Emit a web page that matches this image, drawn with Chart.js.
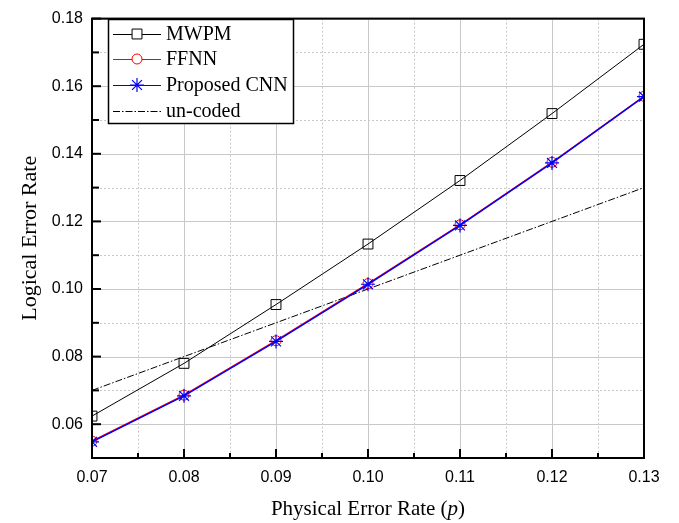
<!DOCTYPE html>
<html>
<head>
<meta charset="utf-8">
<script src="https://cdn.jsdelivr.net/npm/chart.js"></script>
<style>
  html, body { margin: 0; padding: 0; background: #fff; }
  #wrap { width: 679px; height: 523px; }
</style>
</head>
<body>
<div id="wrap"><canvas id="chart" width="679" height="523"></canvas></div>
<script>
// physical error rate p
const pValues = [0.07, 0.08, 0.09, 0.10, 0.11, 0.12, 0.13];
const mwpm = [0.0624, 0.0780, 0.0954, 0.1133, 0.1321, 0.1519, 0.1724];
const ffnn = [0.0550, 0.0686, 0.0847, 0.1016, 0.1190, 0.1375, 0.1570];
const cnn = [0.0548, 0.0684, 0.0845, 0.1014, 0.1188, 0.1373, 0.1569];
const uncoded = [0.07, 0.08, 0.09, 0.10, 0.11, 0.12, 0.13];

const xTicks = [0.07, 0.08, 0.09, 0.10, 0.11, 0.12, 0.13];
const xMinor = [0.075, 0.085, 0.095, 0.105, 0.115, 0.125];
const yTicks = [0.06, 0.08, 0.10, 0.12, 0.14, 0.16, 0.18];
const yMinor = [0.05, 0.07, 0.09, 0.11, 0.13, 0.15, 0.17];

const seriesNames = ['MWPM', 'FFNN', 'Proposed CNN', 'un-coded'];

const pts = arr => pValues.map((p, i) => ({ x: p, y: arr[i] }));

const tickFont = { family: 'Liberation Sans', size: 16 };
const serif = 'Liberation Serif';

// grid, frame, inward ticks, legend and x title
const decor = {
  id: 'decor',
  beforeDatasetsDraw(chart) {
    const { ctx, chartArea: a, scales: { x, y } } = chart;
    ctx.save();
    ctx.strokeStyle = '#c8c8c8';
    ctx.lineWidth = 1;
    ctx.setLineDash([2, 2]);
    xMinor.forEach(v => { const px = Math.round(x.getPixelForValue(v)) + 0.5; ctx.beginPath(); ctx.moveTo(px, a.top); ctx.lineTo(px, a.bottom); ctx.stroke(); });
    yMinor.forEach(v => { const py = Math.round(y.getPixelForValue(v)) + 0.5; ctx.beginPath(); ctx.moveTo(a.left, py); ctx.lineTo(a.right, py); ctx.stroke(); });
    ctx.setLineDash([]);
    xTicks.forEach(v => { const px = Math.round(x.getPixelForValue(v)) + 0.5; ctx.beginPath(); ctx.moveTo(px, a.top); ctx.lineTo(px, a.bottom); ctx.stroke(); });
    yTicks.forEach(v => { const py = Math.round(y.getPixelForValue(v)) + 0.5; ctx.beginPath(); ctx.moveTo(a.left, py); ctx.lineTo(a.right, py); ctx.stroke(); });
    ctx.restore();
  },
  afterDraw(chart) {
    const { ctx, chartArea: a, scales: { x, y } } = chart;
    ctx.save();
    // frame
    ctx.strokeStyle = '#000';
    ctx.lineWidth = 2;
    ctx.strokeRect(a.left, a.top, a.right - a.left, a.bottom - a.top);
    // inward ticks
    xTicks.forEach(v => { const px = x.getPixelForValue(v); ctx.beginPath(); ctx.moveTo(px, a.bottom); ctx.lineTo(px, a.bottom - 9); ctx.stroke(); });
    xMinor.forEach(v => { const px = x.getPixelForValue(v); ctx.beginPath(); ctx.moveTo(px, a.bottom); ctx.lineTo(px, a.bottom - 5); ctx.stroke(); });
    yTicks.forEach(v => { const py = y.getPixelForValue(v); ctx.beginPath(); ctx.moveTo(a.left, py); ctx.lineTo(a.left + 9, py); ctx.stroke(); });
    yMinor.forEach(v => { const py = y.getPixelForValue(v); ctx.beginPath(); ctx.moveTo(a.left, py); ctx.lineTo(a.left + 7, py); ctx.stroke(); });

    // legend
    const lx = 108, ly = 19, lw = 185, lh = 104;
    ctx.fillStyle = '#fff';
    ctx.fillRect(lx, ly, lw, lh);
    ctx.lineWidth = 1.5;
    ctx.strokeStyle = '#000';
    ctx.strokeRect(lx + 0.5, ly + 0.5, lw, lh);
    ctx.textBaseline = 'middle';
    const rows = [34, 59, 85, 111];
    chart.data.datasets.forEach((ds, i) => {
      const ry = rows[i];
      ctx.save();
      ctx.strokeStyle = ds.borderColor;
      ctx.lineWidth = 1;
      ctx.setLineDash(ds.borderDash || []);
      ctx.beginPath(); ctx.moveTo(113, ry + 0.5); ctx.lineTo(161, ry + 0.5); ctx.stroke();
      ctx.restore();
      if (ds.pointRadius > 0) {
        ctx.save();
        ctx.strokeStyle = ds.pointBorderColor;
        ctx.fillStyle = '#fff';
        ctx.lineWidth = ds.pointBorderWidth;
        Chart.helpers.drawPoint(ctx, {
          pointStyle: ds.pointStyle, radius: ds.pointRadius, borderWidth: ds.pointBorderWidth, rotation: 0
        }, 137, ry);
        ctx.restore();
      }
      ctx.fillStyle = '#000';
      ctx.font = '20px "' + serif + '"';
      ctx.fillText(ds.label, 166, ry + 1);
    });

    // x title with italic p
    ctx.textBaseline = 'alphabetic';
    const parts = [['Physical Error Rate (', 'normal'], ['p', 'italic'], [')', 'normal']];
    let total = 0;
    parts.forEach(p => { ctx.font = p[1] + ' 21px "' + serif + '"'; total += ctx.measureText(p[0]).width; });
    let cx = (a.left + a.right) / 2 - total / 2;
    parts.forEach(p => { ctx.font = p[1] + ' 21px "' + serif + '"'; ctx.fillText(p[0], cx, 515); cx += ctx.measureText(p[0]).width; });
    ctx.restore();
  }
};

new Chart(document.getElementById('chart'), {
  type: 'scatter',
  data: {
    datasets: [
      { label: seriesNames[0], data: pts(mwpm), showLine: true, borderColor: '#000', borderWidth: 1,
        pointStyle: 'rect', pointRadius: 7, pointBorderWidth: 1, pointBorderColor: '#000', pointBackgroundColor: 'rgba(0,0,0,0)', order: 3 },
      { label: seriesNames[1], data: pts(ffnn), showLine: true, borderColor: '#ff0000', borderWidth: 1.5,
        pointStyle: 'circle', pointRadius: 5, pointBorderWidth: 1, pointBorderColor: '#ff0000', pointBackgroundColor: 'rgba(0,0,0,0)', order: 2 },
      { label: seriesNames[2], data: pts(cnn), showLine: true, borderColor: '#0000ff', borderWidth: 1.5,
        pointStyle: 'star', pointRadius: 7, pointBorderWidth: 1.2, pointBorderColor: '#0000ff', pointBackgroundColor: 'rgba(0,0,0,0)', order: 1 },
      { label: seriesNames[3], data: pts(uncoded), showLine: true, borderColor: '#000', borderWidth: 1,
        borderDash: [7, 2, 1.5, 2], pointRadius: 0, pointBorderColor: '#000', order: 4 }
    ]
  },
  options: {
    responsive: false,
    animation: false,
    events: [],
    layout: { padding: { left: 0, right: 35, top: 12, bottom: 0 } },
    plugins: { legend: { display: false }, tooltip: { enabled: false } },
    scales: {
      x: {
        type: 'linear', min: 0.07, max: 0.13,
        afterBuildTicks: s => { s.ticks = xTicks.map(v => ({ value: v })); },
        afterFit: s => { s.height = 65; },
        grid: { display: false, drawTicks: false },
        border: { display: false },
        ticks: { color: '#000', font: tickFont, padding: 10, maxRotation: 0, callback: v => v.toFixed(2) }
      },
      y: {
        type: 'linear', min: 0.05, max: 0.18,
        afterBuildTicks: s => { s.ticks = yTicks.map(v => ({ value: v })); },
        afterFit: s => { s.width = 92; },
        grid: { display: false, drawTicks: false },
        border: { display: false },
        title: { display: true, text: 'Logical Error Rate', color: '#000', font: { family: serif, size: 22 }, padding: { top: 17, bottom: 0 } },
        ticks: { color: '#000', font: tickFont, padding: 9, callback: v => v.toFixed(2) }
      }
    }
  },
  plugins: [decor]
});
</script>
</body>
</html>
